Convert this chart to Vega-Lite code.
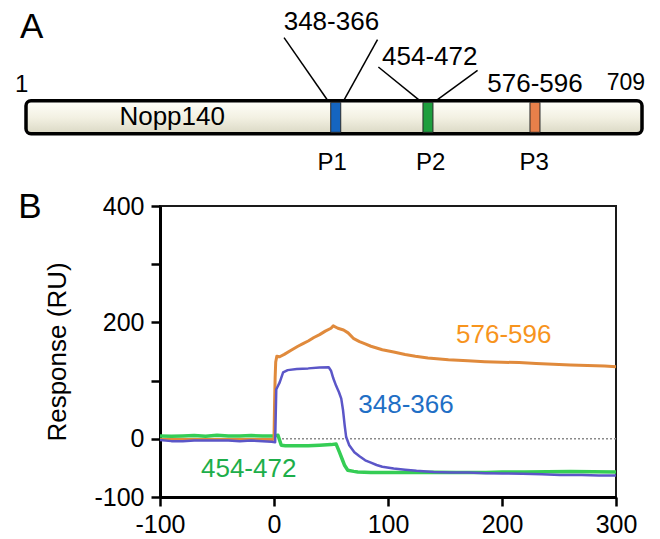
{
  "$schema": "https://vega.github.io/schema/vega-lite/v6.json",
  "width": 456,
  "height": 291,
  "autosize": {"type": "none"},
  "padding": {"left": 160, "top": 206, "right": 44, "bottom": 42},
  "background": "white",
  "config": {
    "font": "Liberation Sans",
    "view": {"stroke": "#1a1a1a", "strokeWidth": 2},
    "axis": {"grid": false, "labelColor": "black", "labelFontSize": 25, "labelFlush": false, "labelOverlap": false, "tickColor": "black", "tickSize": 9, "tickWidth": 2.5, "domainColor": "black", "domainWidth": 3, "titleColor": "black", "titleFontWeight": "normal"}
  },
  "layer": [
    {
      "layer": [
        {
          "data": {"values": [
            {"link": "P1 start", "r": 297.6, "v": 97.7, "r2": 348, "v2": 34.5},
            {"link": "P1 end", "r": 405, "v": 95.7, "r2": 366, "v2": 34.5},
            {"link": "P2 start", "r": 406, "v": 68.3, "r2": 454, "v2": 34.5},
            {"link": "P2 end", "r": 520, "v": 65, "r2": 472, "v2": 34.5}
          ]},
          "mark": {"type": "rule", "color": "black", "strokeWidth": 1.5},
          "encoding": {
            "x": {"field": "r", "type": "quantitative", "scale": {"domain": [1, 709], "range": [-139, 487], "nice": false, "zero": false}, "axis": null},
            "y": {"field": "v", "type": "quantitative", "scale": {"domain": [0, 100], "range": [-70.7, -170.7], "nice": false, "zero": false}, "axis": null},
            "x2": {"field": "r2"},
            "y2": {"field": "v2"}
          }
        },
        {
          "data": {"values": [{"protein": "Nopp140", "r": 1, "r2": 709, "v": 1.5, "v2": 34.5}]},
          "mark": {"type": "rect", "stroke": "black", "strokeWidth": 3.5, "cornerRadius": 5,
            "fill": {"gradient": "linear", "x1": 0, "y1": 0, "x2": 0, "y2": 1, "stops": [{"offset": 0, "color": "#FFFFFA"}, {"offset": 0.5, "color": "#F3F1E3"}, {"offset": 1, "color": "#DAD8C4"}]}},
          "encoding": {
            "x": {"field": "r", "type": "quantitative", "axis": null},
            "x2": {"field": "r2"},
            "y": {"field": "v", "type": "quantitative", "axis": null},
            "y2": {"field": "v2"}
          }
        },
        {
          "data": {"values": [
            {"peptide": "P1", "start": 348, "end": 366, "mid": 357, "v": 3, "v2": 33},
            {"peptide": "P2", "start": 454, "end": 472, "mid": 463, "v": 3, "v2": 33},
            {"peptide": "P3", "start": 576, "end": 596, "mid": 586, "v": 3, "v2": 33}
          ]},
          "mark": {"type": "bar", "size": 10, "stroke": "#2a2a2a", "strokeWidth": 1},
          "encoding": {
            "x": {"field": "mid", "type": "quantitative", "axis": null},
            "y": {"field": "v", "type": "quantitative", "axis": null},
            "y2": {"field": "v2"},
            "color": {"field": "peptide", "type": "nominal", "scale": {"domain": ["P1", "P2", "P3"], "range": ["#1565C0", "#1E9E3E", "#E8804A"]}, "legend": null}
          }
        },
        {
          "data": {"values": [
            {"txt": "Nopp140", "r": 169, "v": 10.7},
            {"txt": "348-366", "r": 352, "v": 105},
            {"txt": "454-472", "r": 465, "v": 70},
            {"txt": "576-596", "r": 586, "v": 43.3}
          ]},
          "mark": {"type": "text", "fontSize": 26, "align": "center", "baseline": "alphabetic", "color": "black"},
          "encoding": {
            "x": {"field": "r", "type": "quantitative", "axis": null},
            "y": {"field": "v", "type": "quantitative", "axis": null},
            "text": {"field": "txt"}
          }
        },
        {
          "data": {"values": [
            {"txt": "1", "r": -4, "v": 43},
            {"txt": "P1", "r": 353, "v": -35},
            {"txt": "P2", "r": 466, "v": -35},
            {"txt": "P3", "r": 585, "v": -35}
          ]},
          "mark": {"type": "text", "fontSize": 24, "align": "center", "baseline": "alphabetic", "color": "black"},
          "encoding": {
            "x": {"field": "r", "type": "quantitative", "axis": null},
            "y": {"field": "v", "type": "quantitative", "axis": null},
            "text": {"field": "txt"}
          }
        },
        {
          "data": {"values": [{"txt": "709", "r": 709, "v": 45}]},
          "mark": {"type": "text", "fontSize": 23, "align": "right", "baseline": "alphabetic", "color": "black", "dx": 3},
          "encoding": {
            "x": {"field": "r", "type": "quantitative", "axis": null},
            "y": {"field": "v", "type": "quantitative", "axis": null},
            "text": {"field": "txt"}
          }
        },
        {
          "data": {"values": [
            {"txt": "A", "r": -6, "v": 97},
            {"txt": "B", "r": -8, "v": -83}
          ]},
          "mark": {"type": "text", "fontSize": 35, "align": "left", "baseline": "alphabetic", "color": "black"},
          "encoding": {
            "x": {"field": "r", "type": "quantitative", "axis": null},
            "y": {"field": "v", "type": "quantitative", "axis": null},
            "text": {"field": "txt"}
          }
        }
      ]
    },
    {
      "layer": [
        {
          "data": {"values": [{"t": 0, "t2": 300, "ru": 0}]},
          "mark": {"type": "rule", "color": "#8a8a8a", "strokeWidth": 1.5, "strokeDash": [2, 2]},
          "encoding": {
            "x": {"field": "t", "type": "quantitative", "scale": {"domain": [-100, 300], "nice": false, "zero": false}, "axis": {"values": [-100, 0, 100, 200, 300], "labelExpr": "toString(datum.value)", "title": null, "labelPadding": 6}},
            "x2": {"field": "t2"},
            "y": {"field": "ru", "type": "quantitative", "scale": {"domain": [-100, 400], "nice": false, "zero": false}, "axis": {"values": [-100, 0, 100, 200, 300, 400], "labelExpr": "datum.value == 100 || datum.value == 300 ? '' : toString(datum.value)", "title": "Response (RU)", "titleFontSize": 26, "titlePadding": 23, "labelPadding": 7}}
          }
        },
        {
          "data": {"values": [
            {"series": "454-472", "t": -100, "ru": 5}, {"series": "454-472", "t": -90, "ru": 4.5}, {"series": "454-472", "t": -80, "ru": 5}, {"series": "454-472", "t": -70, "ru": 5.5}, {"series": "454-472", "t": -60, "ru": 4.5}, {"series": "454-472", "t": -50, "ru": 6}, {"series": "454-472", "t": -40, "ru": 5}, {"series": "454-472", "t": -30, "ru": 5}, {"series": "454-472", "t": -20, "ru": 5.5}, {"series": "454-472", "t": -10, "ru": 5}, {"series": "454-472", "t": 0, "ru": 5}, {"series": "454-472", "t": 3.5, "ru": 6}, {"series": "454-472", "t": 5, "ru": -3}, {"series": "454-472", "t": 6.4, "ru": -11}, {"series": "454-472", "t": 10, "ru": -12}, {"series": "454-472", "t": 20, "ru": -12}, {"series": "454-472", "t": 30, "ru": -12}, {"series": "454-472", "t": 40, "ru": -11}, {"series": "454-472", "t": 50, "ru": -10}, {"series": "454-472", "t": 54.5, "ru": -9}, {"series": "454-472", "t": 57.4, "ru": -23}, {"series": "454-472", "t": 60, "ru": -36}, {"series": "454-472", "t": 62, "ru": -46}, {"series": "454-472", "t": 64.7, "ru": -54}, {"series": "454-472", "t": 70, "ru": -56}, {"series": "454-472", "t": 73.5, "ru": -57}, {"series": "454-472", "t": 85, "ru": -58}, {"series": "454-472", "t": 100, "ru": -58}, {"series": "454-472", "t": 120, "ru": -58}, {"series": "454-472", "t": 140, "ru": -57.5}, {"series": "454-472", "t": 160, "ru": -58}, {"series": "454-472", "t": 186, "ru": -58}, {"series": "454-472", "t": 200, "ru": -57}, {"series": "454-472", "t": 220, "ru": -57}, {"series": "454-472", "t": 240, "ru": -56.5}, {"series": "454-472", "t": 260, "ru": -56}, {"series": "454-472", "t": 280, "ru": -56.5}, {"series": "454-472", "t": 300, "ru": -57},
            {"series": "576-596", "t": -100, "ru": -1}, {"series": "576-596", "t": -60, "ru": -1}, {"series": "576-596", "t": -20, "ru": -1}, {"series": "576-596", "t": -1, "ru": -1}, {"series": "576-596", "t": 0, "ru": 0}, {"series": "576-596", "t": 0.5, "ru": 60}, {"series": "576-596", "t": 1, "ru": 105}, {"series": "576-596", "t": 1.5, "ru": 132}, {"series": "576-596", "t": 2.5, "ru": 142}, {"series": "576-596", "t": 5, "ru": 141}, {"series": "576-596", "t": 9, "ru": 145}, {"series": "576-596", "t": 15, "ru": 152}, {"series": "576-596", "t": 21, "ru": 159}, {"series": "576-596", "t": 25, "ru": 163}, {"series": "576-596", "t": 30, "ru": 168}, {"series": "576-596", "t": 35, "ru": 174}, {"series": "576-596", "t": 40, "ru": 179}, {"series": "576-596", "t": 45, "ru": 185}, {"series": "576-596", "t": 50, "ru": 190}, {"series": "576-596", "t": 52, "ru": 194}, {"series": "576-596", "t": 56, "ru": 190}, {"series": "576-596", "t": 61, "ru": 187}, {"series": "576-596", "t": 65, "ru": 182}, {"series": "576-596", "t": 70, "ru": 172}, {"series": "576-596", "t": 75, "ru": 167}, {"series": "576-596", "t": 80, "ru": 163}, {"series": "576-596", "t": 85, "ru": 159}, {"series": "576-596", "t": 90, "ru": 156}, {"series": "576-596", "t": 95, "ru": 153}, {"series": "576-596", "t": 105, "ru": 149}, {"series": "576-596", "t": 115, "ru": 145}, {"series": "576-596", "t": 124, "ru": 142}, {"series": "576-596", "t": 135, "ru": 139}, {"series": "576-596", "t": 153, "ru": 136}, {"series": "576-596", "t": 170, "ru": 134}, {"series": "576-596", "t": 185, "ru": 132.5}, {"series": "576-596", "t": 200, "ru": 131.5}, {"series": "576-596", "t": 215, "ru": 131}, {"series": "576-596", "t": 230, "ru": 129.5}, {"series": "576-596", "t": 245, "ru": 128}, {"series": "576-596", "t": 260, "ru": 127}, {"series": "576-596", "t": 275, "ru": 126}, {"series": "576-596", "t": 290, "ru": 125}, {"series": "576-596", "t": 300, "ru": 124},
            {"series": "348-366", "t": -100, "ru": -2}, {"series": "348-366", "t": -90, "ru": -4}, {"series": "348-366", "t": -80, "ru": -4}, {"series": "348-366", "t": -70, "ru": -3}, {"series": "348-366", "t": -60, "ru": -3}, {"series": "348-366", "t": -50, "ru": -3}, {"series": "348-366", "t": -40, "ru": -3}, {"series": "348-366", "t": -30, "ru": -4}, {"series": "348-366", "t": -20, "ru": -3}, {"series": "348-366", "t": -10, "ru": -4}, {"series": "348-366", "t": -2, "ru": -5}, {"series": "348-366", "t": 1, "ru": -6}, {"series": "348-366", "t": 1.5, "ru": 40}, {"series": "348-366", "t": 2, "ru": 85}, {"series": "348-366", "t": 3, "ru": 89}, {"series": "348-366", "t": 5, "ru": 97}, {"series": "348-366", "t": 8, "ru": 114}, {"series": "348-366", "t": 12, "ru": 118}, {"series": "348-366", "t": 20, "ru": 120}, {"series": "348-366", "t": 30, "ru": 121}, {"series": "348-366", "t": 40, "ru": 122.5}, {"series": "348-366", "t": 48, "ru": 123}, {"series": "348-366", "t": 50, "ru": 117}, {"series": "348-366", "t": 52, "ru": 104}, {"series": "348-366", "t": 54.5, "ru": 91}, {"series": "348-366", "t": 57, "ru": 80}, {"series": "348-366", "t": 59, "ru": 69}, {"series": "348-366", "t": 60.5, "ru": 50}, {"series": "348-366", "t": 62, "ru": 23}, {"series": "348-366", "t": 63.3, "ru": 3}, {"series": "348-366", "t": 66, "ru": -11}, {"series": "348-366", "t": 70.5, "ru": -23}, {"series": "348-366", "t": 75, "ru": -30}, {"series": "348-366", "t": 80, "ru": -37}, {"series": "348-366", "t": 85, "ru": -41}, {"series": "348-366", "t": 90, "ru": -45}, {"series": "348-366", "t": 95, "ru": -48}, {"series": "348-366", "t": 105, "ru": -51}, {"series": "348-366", "t": 115, "ru": -53}, {"series": "348-366", "t": 125, "ru": -55}, {"series": "348-366", "t": 140, "ru": -57}, {"series": "348-366", "t": 155, "ru": -58}, {"series": "348-366", "t": 170, "ru": -58}, {"series": "348-366", "t": 186, "ru": -59}, {"series": "348-366", "t": 200, "ru": -59.5}, {"series": "348-366", "t": 218, "ru": -60}, {"series": "348-366", "t": 235, "ru": -61}, {"series": "348-366", "t": 251, "ru": -62}, {"series": "348-366", "t": 270, "ru": -62}, {"series": "348-366", "t": 285, "ru": -63}, {"series": "348-366", "t": 300, "ru": -63}
          ]},
          "mark": {"type": "line", "strokeJoin": "round"},
          "encoding": {
            "x": {"field": "t", "type": "quantitative"},
            "y": {"field": "ru", "type": "quantitative"},
            "stroke": {"field": "series", "type": "nominal", "scale": {"domain": ["454-472", "576-596", "348-366"], "range": ["#35CD55", "#E08A3C", "#5B56C8"]}, "legend": null},
            "strokeWidth": {"field": "series", "type": "ordinal", "scale": {"domain": ["454-472", "576-596", "348-366"], "range": [3.5, 2.5, 2]}, "legend": null},
            "order": {"field": "t", "type": "quantitative"}
          }
        },
        {
          "data": {"values": [
            {"series": "576-596", "t": 201.5, "ru": 164.6},
            {"series": "348-366", "t": 115.8, "ru": 44},
            {"series": "454-472", "t": -22.2, "ru": -65.5}
          ]},
          "mark": {"type": "text", "fontSize": 26, "align": "center", "baseline": "alphabetic"},
          "encoding": {
            "x": {"field": "t", "type": "quantitative"},
            "y": {"field": "ru", "type": "quantitative"},
            "text": {"field": "series"},
            "fill": {"field": "series", "type": "nominal", "scale": {"domain": ["454-472", "576-596", "348-366"], "range": ["#1DAE4A", "#F7941D", "#1F6FC5"]}, "legend": null}
          }
        }
      ]
    }
  ],
  "resolve": {"scale": {"x": "independent", "y": "independent"}}
}
